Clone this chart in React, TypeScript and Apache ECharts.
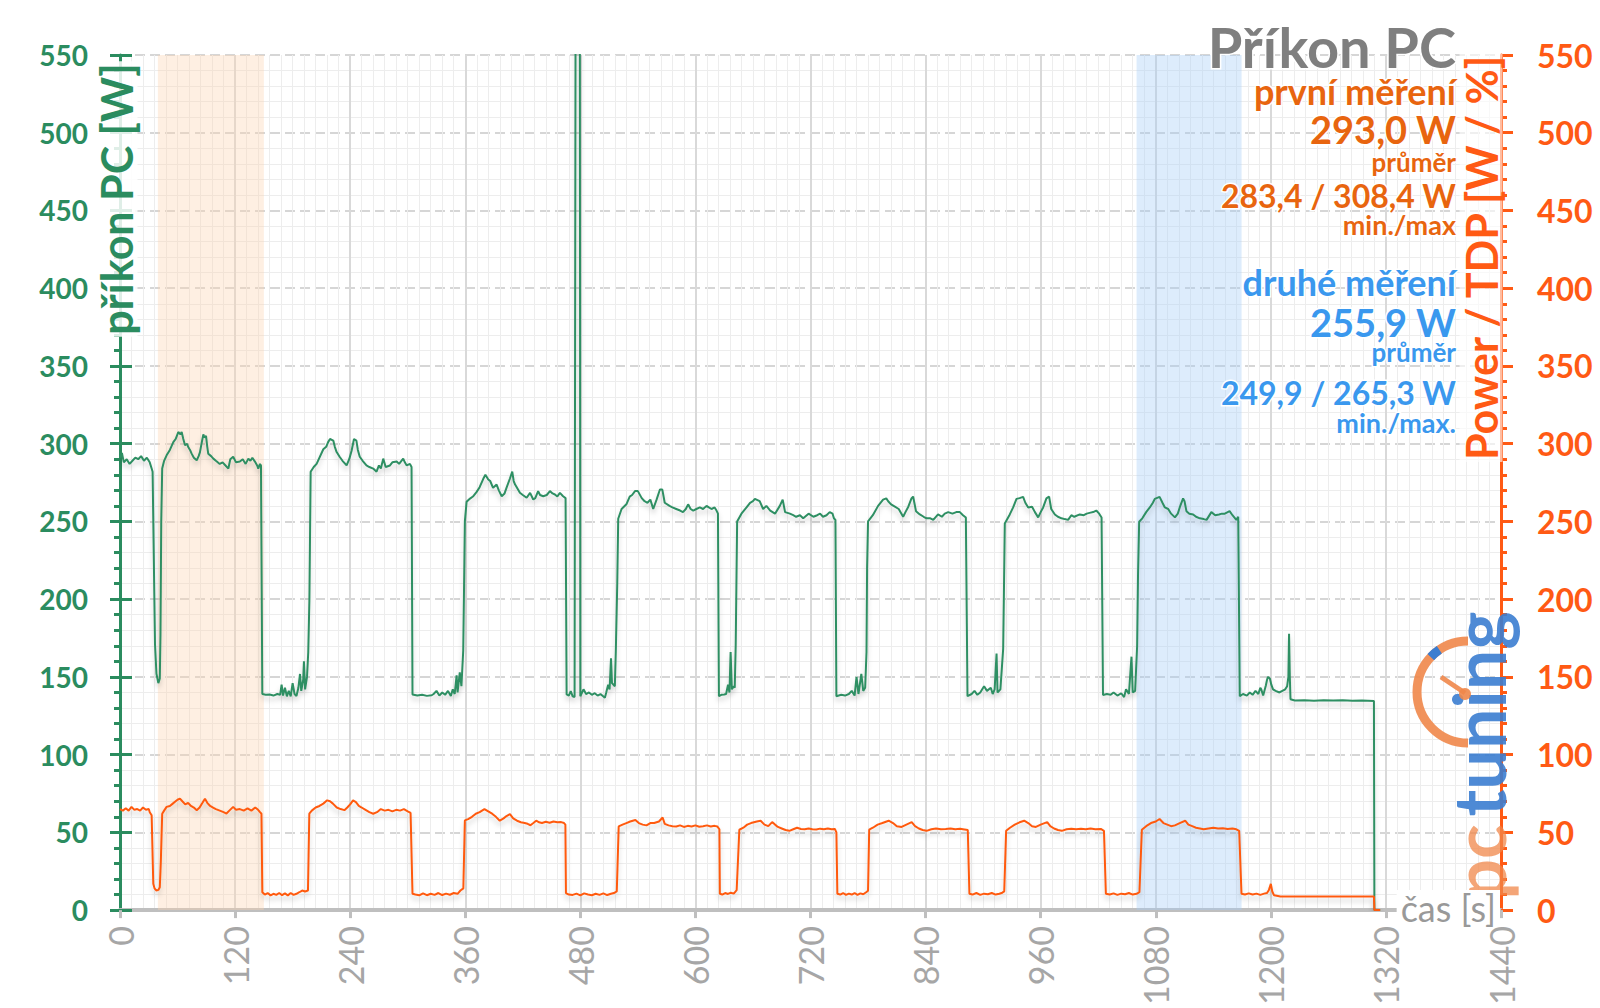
import React, { useEffect, useRef } from 'react';
import * as echarts from 'echarts';

// ---- axis ranges ----
const X_MIN = 0;
const X_MAX = 1440;
const X_STEP = 120;
const Y_MIN = 0;
const Y_MAX = 550;
const Y_STEP = 50;

// ---- texts ----
const TITLE = 'Příkon PC';
const LEFT_NAME = 'příkon PC [W]';
const RIGHT_NAME = 'Power / TDP [W / %]';
const X_NAME = 'čas [s]';
const FIRST_INFO = ['první měření', '293,0 W', 'průměr', '283,4 / 308,4 W', 'min./max'];
const SECOND_INFO = ['druhé měření', '255,9 W', 'průměr', '249,9 / 265,3 W', 'min./max.'];

// ---- highlighted bands (s) ----
const BAND_FIRST = [39.5, 150];
const BAND_SECOND = [1060, 1169.5];

// ---- příkon PC [W] (time s, value W) ----
const pcPower: [number, number][] = [
  [0,291],[2,294],[4,288],[7,290],[10,287],[13,289],[16,291],[19,290],[22,292],[25,289],[28,291],[31,288],[33,284],[34,282],
  [36.5,171],[38,152],[40,146],[41.5,149],[42.2,177],[43,250],[44,284],[46,289],[48.6,292.5],[52,296],[55.6,301],[58,303],
  [60.8,307.5],[63,306],[64.3,307.5],[66,303],[67.8,299],[70,300],[71,298],[73,296],[74.7,293.6],[77,291],[80,289.3],[82,292],
  [83.4,294.6],[85,300],[86.9,306],[88,304],[89.7,305],[91,298],[92,293.6],[95,292],[97.3,290.4],[100,289],[104,287],[107,288],
  [110,286],[113,284],[115,290],[118,291.6],[121,288],[125,288.5],[128,290],[131,287],[133.8,290.4],[136,289],[138,291],
  [140.7,288.5],[143,286],[144.2,284],[146,287],[147,286],[148.4,139],[152,138.5],[156,138.7],[160,138],[164,139],[167,138.5],
  [168.5,145],[170,138],[172,143],[174,137.5],[176,141],[178,137.5],[180,146],[182,139],[184,137.7],[186,143],[187.7,151.9],
  [189,141],[191,148],[191.8,160],[193,142],[195,150],[196.3,166],[197.5,200],[198.8,282],[202,285],[205,287],[208,291],
  [212,296.4],[215,298],[217,301],[219,303],[222.4,302],[224,298],[225.9,294.6],[229,291.6],[232,289],[236.3,286],[239,290],
  [241.5,295.5],[244,303],[246.5,302],[248,296],[250,291.6],[253,289],[257,286],[260,285],[264,284],[267.5,282],[270,286],
  [272,284],[274.5,290.4],[277,285],[281.5,286],[284,288],[288.5,288.5],[291,287],[295.3,290.4],[297,288],[299,286],[302.3,287],
  [304,285],[305,138.7],[310,138],[315,138.5],[320,137.8],[325,138.2],[327,139],[330,141],[333,138],[336,140],[339,138.5],
  [342,141],[345,137.7],[347,142],[349,139],[351,151],[352,140],[354.3,153],[356,144],[357.9,167],[358.8,210],[359.6,250],
  [361.4,262.6],[365,264.7],[368,266],[371.9,269],[375,272],[378.8,277.4],[381,280],[384,277],[386,276],[389,271.6],[392.7,273.7],
  [395,270],[398,266.2],[401,268],[403,271.6],[406.6,277.6],[409,282],[410.5,276],[412,273.7],[417,268.4],[420,267],[424,265.2],
  [427.6,268.4],[430.9,264.1],[433,265],[436,269.5],[438,267],[441.3,266.2],[445,267],[448.3,269.5],[451,268],[453.5,267.3],
  [456,266],[458.7,268.4],[462,266.2],[464.6,265],[465.7,138.7],[468,138],[470,140.8],[472,137.5],[474,137],[475,560],[479.5,560],
  [480,137.5],[483.3,142],[486,139],[489,140],[492,138.5],[495,139.5],[498,138],[501,139],[505.6,136.6],[507,140],[509,145],
  [510.5,142],[512,162],[513,146],[516,144],[517,166.7],[518.5,210],[519.5,251.7],[523,258],[528,261],[531.5,266],[534,267],
  [537,269.5],[540,269.5],[544,265],[547,263],[550,262],[553,264],[556,258],[559.5,264],[563,270.5],[565.5,270.5],[568,262],
  [573,260],[576,259],[580,258],[584,257],[587,256],[590,258],[592.4,261],[595,258],[597.7,257],[601,258],[604.6,259],[608,258],
  [611.6,260],[614,259],[616.8,258],[620,259],[622,257],[623.5,255],[624.5,137.6],[627,138.5],[630,138.7],[632,139],[634,145],
  [635.5,140],[636.7,166],[638,142],[640,144],[641,143],[642,170],[643.5,250],[648,255],[653.3,259],[657,262],[660,263],
  [662,264.5],[667,263],[670.6,258],[674,260],[678,257],[683,255],[688,260],[691,264],[693.5,256],[698.5,255],[702,254],[705,253],
  [709,254],[712.4,252],[718,255],[723,253],[727,254],[730,255],[733,253],[736.7,254],[740,256],[743,255],[744.4,252],[746,251],
  [747,137.6],[752,138.5],[756,138],[760,139],[763,141],[766,138],[768,150],[770,139],[773,152],[775,141],[777,143],[778.4,166],
  [779,220],[780,250],[785,254],[790.5,260],[795.7,264],[799,264.8],[801,263],[804,261],[808,259.5],[812,258],[816.6,253],
  [819,256],[822,259.5],[825.3,264.8],[827,266],[830,256.6],[834,254.5],[838,253],[841,252],[845,252],[848,251],[853,254.5],
  [857,253],[860,255],[863.6,256],[868,255],[872,256],[875.7,256],[879,254],[882,252.5],[883.7,137.6],[888,139],[891,141],
  [894,138.5],[897,140],[901,144],[904,141],[908,143],[910,139],[912,142],[914,165],[915,140],[918,142],[920.9,168],[921.8,210],
  [922.6,248.7],[927.8,254.5],[931.3,259],[934.8,264.5],[938,265],[941.7,265.8],[944,262],[947,259],[951,259.5],[954,256],
  [957.4,252.6],[960,256],[962.6,259],[966,264.8],[968.8,266],[971,258],[974.8,254.5],[978,253],[981.7,252],[985,251.5],
  [988.6,251],[992,254],[995,253],[1000.8,254.5],[1005,254],[1008,255],[1011,255.5],[1014.7,256],[1018,257],[1021,255],
  [1023.5,252.5],[1025,138.4],[1029,139],[1033,138.5],[1036,140],[1040,138],[1044,139.5],[1047,137],[1049,142],[1052,139],
  [1054.7,163],[1056,140],[1058.5,141],[1060.6,170],[1061.5,215],[1062.7,249.8],[1066,252],[1070,256],[1073.8,259],[1077,262],
  [1079,264.5],[1084,265.8],[1087,262],[1089.5,259],[1093,258],[1096,255],[1100,252.6],[1103,255],[1105,259],[1108.5,264.8],
  [1110,263],[1112,256.6],[1115,255],[1119,254.5],[1122,253],[1126,252],[1130,251.5],[1133,251],[1138,256],[1142,254],
  [1146,254.5],[1149,255],[1152,255],[1157,256.6],[1160,254],[1164,251],[1166,253],[1167.6,137.6],[1171,139],[1175,138],
  [1178,140],[1181,138.5],[1184,141],[1187,139],[1189,143],[1190,142],[1192,138],[1194.8,144.5],[1196,148],[1197,150],[1199,149],
  [1200.5,145],[1202.3,142],[1205,141],[1209,140],[1212,141],[1215,142],[1217,144],[1218.3,150],[1219,177.7],[1219.8,150],
  [1220.5,135.6],[1225,134.8],[1235,135],[1245,134.7],[1255,135],[1265,134.8],[1275,135],[1285,134.6],[1295,134.8],
  [1307.5,134.5],[1308,0],[1314,0],
];

// ---- Power / TDP (time s, value W/%) ----
const cpuPower: [number, number][] = [
  [0,65],[3,64],[6,65.5],[9,64],[12,66.4],[15,64.5],[18,65],[21,64],[24,66],[27,64.5],[30,65],[31,63],[33,61],[34.7,17],[36,14],
  [38,12.6],[40,13],[41.5,14.7],[42.5,30],[44,62],[46,64],[48.6,66.4],[52,67],[55,68.5],[58,70],[60,71],[62.5,71.7],[65,70],
  [68,68],[71,69],[74,67],[77,66],[80,64.3],[83,66],[86,69],[88.6,71.7],[91,69],[94,67],[97,66],[100,65],[104,64],[108,63],
  [111,62.1],[114,64],[118,66.4],[121,64.5],[125,65],[129,64],[133,65.5],[137,64],[141,66],[144,64.5],[146,63],[147.5,62],
  [148.4,11.5],[151,10],[154,11],[157,9.5],[160,10.5],[163,9.8],[166,11],[169,9.6],[172,10.8],[175,9.5],[178,11],[181,9.8],
  [184,10.5],[187,11.5],[190,12.6],[193,12],[196,12.6],[197.4,62],[200,64],[204,66],[208,67],[212,68.5],[216,70.6],[219,70],
  [222,68.5],[226,66],[230,65],[234,64.3],[237,66],[240,68],[243,70.6],[246,69.5],[249,67],[252,66],[256,64.5],[260,63],
  [264,62],[268,63],[272,65],[276,64],[280,64.5],[284,63.5],[288,64.5],[292,64],[296,65],[300,63.5],[303,62.5],[305,10.5],
  [308,10],[312,9.5],[316,10.8],[320,9.6],[324,10.5],[328,9.8],[332,11],[336,9.7],[340,10.6],[344,9.9],[348,11],[352,10.5],
  [355,12.6],[358,14],[359.6,57.7],[363,58.5],[367,60],[371,62],[375,63],[380,65],[384,63.5],[388,62],[392,60],[396,57.5],
  [400,59],[403,60.5],[406.6,61.8],[410,59],[414,57.5],[418,56.5],[422,56],[425,55.5],[428,54.6],[431,56],[434,57.5],
  [437,56.5],[440,56],[444,56.8],[448,56.2],[452,57],[456,56.5],[460,56.6],[463,56],[464.4,55],[465,11],[468,10],[472,9.8],
  [476,10.6],[480,9.5],[484,10.8],[488,10],[492,9.6],[496,10.5],[500,9.8],[504,10.8],[508,9.7],[512,10.5],[515,11],[518,12],
  [520,53.8],[524,55],[528,56],[532,57],[537.4,58],[541,56],[545,55],[549,54.5],[553,56],[557,56],[562,57],[565.8,59.6],
  [568,55.5],[572,54.5],[576,54],[580,53.8],[584,54.5],[588,53.5],[592,54.2],[596,53.8],[600,54.5],[604,53.6],[608,54],
  [612,54.5],[616,53.8],[620,54.2],[622.8,53.8],[625,52],[625.5,10.5],[628,10],[631,11],[634,10.4],[637,11.2],[640,10.6],
  [643,12.8],[645.8,51.7],[650,53],[654,55],[658,56],[664,57],[668,57.5],[672,55],[676,54],[680,56.6],[683,55],[686,53.5],
  [690,52.5],[694,51.5],[698,51],[702,52],[706,53],[710,52.2],[714,52],[718,52.5],[722,52],[726,51.8],[730,52.4],[734,52],
  [738,52.5],[742,52],[745.4,52.2],[747,50],[748,10.5],[751,10],[754,11],[757,9.8],[760,10.6],[763,10],[766,11],[769,9.8],
  [772,10.8],[775,10.2],[778,11.5],[780,12.5],[781.2,51.7],[785,53],[790,55],[795,56],[801.5,57.5],[806,56],[810,54],
  [815,53.5],[820,55],[825.5,56.6],[829,54],[833,52.5],[837,51.5],[841,51],[846,52],[851,52.5],[856,52],[861,52.2],[866,52.5],
  [871,52],[876,52.3],[879,52],[884,51.5],[885.7,10.5],[889,10],[893,11],[897,9.8],[901,10.6],[905,10.2],[909,11],[913,10],
  [917,10.5],[920,11.2],[922,12],[924,51],[928,53],[933,55],[938,56.5],[942.8,57.5],[947,56],[951,54],[955,53.5],[960,55],
  [966.8,56.6],[970,54],[974,52.5],[978,51.5],[982,51],[987,52],[992,52.3],[997,52],[1002,52.4],[1007,52],[1012,52.5],
  [1017,52],[1022.7,52.2],[1026,51],[1028,10.5],[1032,10],[1036,10.8],[1040,9.8],[1044,10.6],[1048,10.2],[1052,11],[1056,10],
  [1060,10.5],[1063,11.5],[1065.5,51.7],[1070,54],[1075,56],[1080,57],[1084,58.6],[1088,56],[1092,55],[1096,54],[1100,54.5],
  [1105,56],[1110.7,57.5],[1114,55],[1118,54],[1122,53],[1126,52.5],[1130,52],[1135,52.5],[1140,53],[1145,52.5],[1150,52.6],
  [1155,52.2],[1160,52.5],[1164,52],[1167,51],[1169.4,10.5],[1173,10],[1177,10.8],[1181,10],[1185,10.6],[1189,9.8],[1193,10.6],
  [1196,11],[1198,13],[1200,16.9],[1201.5,12],[1203.4,9.5],[1210,8.8],[1220,8.8],[1230,8.7],[1240,8.8],[1250,8.8],[1260,8.7],
  [1270,8.8],[1280,8.8],[1290,8.7],[1300,8.8],[1307.5,8.8],[1308,0],[1314,0],
];

const FONT = 'Lato, "Open Sans", sans-serif';
const GREEN_AXIS = '#2b8c5f';
const GREEN_LINE = '#2f8f63';
const ORANGE_AXIS = '#ff5a14';
const ORANGE_LINE = '#ff5a10';
const ORANGE_TEXT = '#e8650f';
const BLUE_TEXT = '#3a98ee';
const GRAY = '#a6a6a6';

export default function App() {
  const ref = useRef<HTMLDivElement>(null);

  useEffect(() => {
    if (!ref.current) return;
    const chart = echarts.init(ref.current, undefined, { renderer: 'svg' });

    const RIGHT_X = 1456;
    const infoText = (text: string, y: number, size: number, color: string) => ({
      type: 'text',
      x: RIGHT_X,
      y,
      z: 100,
      style: {
        text,
        fill: color,
        fontSize: size,
        lineHeight: Math.round(size * 0.78),
        fontWeight: 'bold',
        fontFamily: FONT,
        align: 'right',
        verticalAlign: 'middle',
        stroke: '#ffffff',
        lineWidth: 3,
      },
    });

    const infoSizes = [36, 38, 26, 32, 27];
    const firstYs = [91, 129, 162, 195, 224];
    const secondYs = [282, 322, 352, 392, 422];

    const graphic: any[] = [
      {
        type: 'text', x: RIGHT_X, y: 46, z: 100,
        style: { text: TITLE, fill: '#7f7f7f', fontSize: 56, lineHeight: 44, fontWeight: 'bold', fontFamily: FONT,
          align: 'right', verticalAlign: 'middle', stroke: '#ffffff', lineWidth: 3 },
      },
      ...FIRST_INFO.map((t, i) => infoText(t, firstYs[i], infoSizes[i], ORANGE_TEXT)),
      ...SECOND_INFO.map((t, i) => infoText(t, secondYs[i], infoSizes[i], BLUE_TEXT)),
      {
        type: 'text', x: 116, y: 199, rotation: Math.PI / 2, z: 100,
        style: { text: LEFT_NAME, fill: GREEN_AXIS, fontSize: 43, fontWeight: 'bold', fontFamily: FONT,
          align: 'center', verticalAlign: 'middle', backgroundColor: 'rgba(255,255,255,0.85)', padding: [0, 2] },
      },
      {
        type: 'text', x: 1481, y: 258, rotation: Math.PI / 2, z: 100,
        style: { text: RIGHT_NAME, fill: ORANGE_AXIS, fontSize: 43, fontWeight: 'bold', fontFamily: FONT,
          align: 'center', verticalAlign: 'middle', backgroundColor: 'rgba(255,255,255,0.6)' },
      },
      {
        type: 'text', x: 1500, y: 908, z: 100,
        style: { text: X_NAME, fill: '#999999', fontSize: 36, fontFamily: FONT,
          align: 'right', verticalAlign: 'middle', backgroundColor: '#ffffff', padding: [0, 4] },
      },
      // logo
      {
        type: 'arc', z: 90,
        shape: { cx: 1468, cy: 692, r: 51, startAngle: Math.PI / 2, endAngle: Math.PI * 1.5, clockwise: true },
        style: { stroke: '#f0874a', lineWidth: 9, opacity: 0.9 },
      },
      {
        type: 'arc', z: 91,
        shape: { cx: 1468, cy: 692, r: 51, startAngle: Math.PI * 1.24, endAngle: Math.PI * 1.31, clockwise: true },
        style: { stroke: '#3b7dd0', lineWidth: 9 },
      },
      {
        type: 'line', z: 91,
        shape: { x1: 1441, y1: 677, x2: 1465, y2: 693 },
        style: { stroke: '#f0874a', lineWidth: 5, opacity: 0.9 },
      },
      {
        type: 'circle', z: 91,
        shape: { cx: 1465, cy: 694, r: 6 },
        style: { fill: '#f0874a', opacity: 0.9 },
      },
      {
        type: 'text', x: 1478, y: 714, rotation: Math.PI / 2, z: 90,
        style: { text: 'tuning', fill: '#3b7dd0', fontSize: 72, fontWeight: 'bold', fontFamily: FONT,
          align: 'center', verticalAlign: 'middle', opacity: 0.9 },
      },
      {
        type: 'text', x: 1478, y: 862, rotation: Math.PI / 2, z: 90,
        style: { text: 'pc', fill: '#f0874a', fontSize: 72, fontWeight: 'bold', fontFamily: FONT,
          align: 'center', verticalAlign: 'middle', opacity: 0.75 },
      },
    ];

    const yBase = {
      type: 'value' as const,
      min: Y_MIN,
      max: Y_MAX,
      interval: Y_STEP,
    };

    const option: any = {
      animation: false,
      backgroundColor: '#ffffff',
      grid: { left: 120, right: 99, top: 55, bottom: 95, containLabel: false },
      xAxis: {
        type: 'value',
        min: X_MIN,
        max: X_MAX,
        interval: X_STEP,
        axisLine: { show: true, onZero: false, lineStyle: { color: '#bfbfbf', width: 4 } },
        axisTick: { show: true, length: 8, lineStyle: { color: '#bfbfbf', width: 3 } },
        minorTick: { show: false, splitNumber: 10 },
        axisLabel: { rotate: 90, color: GRAY, fontSize: 34, fontFamily: FONT, margin: 16,
          formatter: (v: number) => String(v) },
        splitLine: { show: true, lineStyle: { color: '#d9d9d9', width: 2 } },
        minorSplitLine: { show: true, lineStyle: { color: '#ededed', width: 1 } },
      },
      yAxis: [
        {
          ...yBase,
          position: 'left',
          axisLine: { show: true, lineStyle: { color: GREEN_AXIS, width: 3 } },
          axisTick: { show: true, inside: false, length: 10, lineStyle: { color: GREEN_AXIS, width: 3 } },
          minorTick: { show: true, splitNumber: 5, length: 6, lineStyle: { color: GREEN_AXIS, width: 3 } },
          axisLabel: { color: GREEN_AXIS, fontSize: 28, fontWeight: 'bold', fontFamily: FONT, margin: 32 },
          splitLine: { show: true, lineStyle: { color: '#d6d6d6', width: 2, type: [10, 5] } },
          minorSplitLine: { show: true, lineStyle: { color: '#ededed', width: 1 } },
        },
        {
          ...yBase,
          position: 'right',
          axisLine: { show: true, lineStyle: { color: ORANGE_AXIS, width: 3 } },
          axisTick: { show: true, inside: false, length: 12, lineStyle: { color: ORANGE_AXIS, width: 3 } },
          minorTick: { show: true, splitNumber: 5, length: 6, lineStyle: { color: ORANGE_AXIS, width: 3 } },
          axisLabel: { color: ORANGE_AXIS, fontSize: 32, fontWeight: 'bold', fontFamily: FONT, margin: 36 },
          splitLine: { show: false },
        },
        {
          ...yBase,
          position: 'left',
          axisLine: { show: false },
          axisTick: { show: true, inside: true, length: 12, lineStyle: { color: GREEN_AXIS, width: 3 } },
          axisLabel: { show: false },
          splitLine: { show: false },
        },
      ],
      graphic,
      series: [
        {
          name: 'bands',
          type: 'line',
          data: [],
          z: 1,
          silent: true,
          markArea: {
            silent: true,
            data: [
              [{ xAxis: BAND_FIRST[0], itemStyle: { color: 'rgba(251,210,175,0.36)' } }, { xAxis: BAND_FIRST[1] }],
              [{ xAxis: BAND_SECOND[0], itemStyle: { color: 'rgba(165,205,247,0.38)' } }, { xAxis: BAND_SECOND[1] }],
            ],
          },
        },
        {
          name: 'příkon PC',
          type: 'line',
          data: pcPower,
          showSymbol: false,
          symbol: 'none',
          z: 5,
          clip: true,
          lineStyle: { color: GREEN_LINE, width: 2, shadowColor: 'rgba(0,0,0,0.18)', shadowBlur: 5, shadowOffsetY: 4 },
        },
        {
          name: 'Power / TDP',
          type: 'line',
          data: cpuPower,
          showSymbol: false,
          symbol: 'none',
          z: 5,
          clip: true,
          lineStyle: { color: ORANGE_LINE, width: 2, shadowColor: 'rgba(0,0,0,0.18)', shadowBlur: 5, shadowOffsetY: 4 },
        },
      ],
    };

    chart.setOption(option);
    return () => chart.dispose();
  }, []);

  return (
    <div
      ref={ref}
      style={{ position: 'fixed', left: 0, top: 0, width: 1600, height: 1008, background: '#fff' }}
    />
  );
}
